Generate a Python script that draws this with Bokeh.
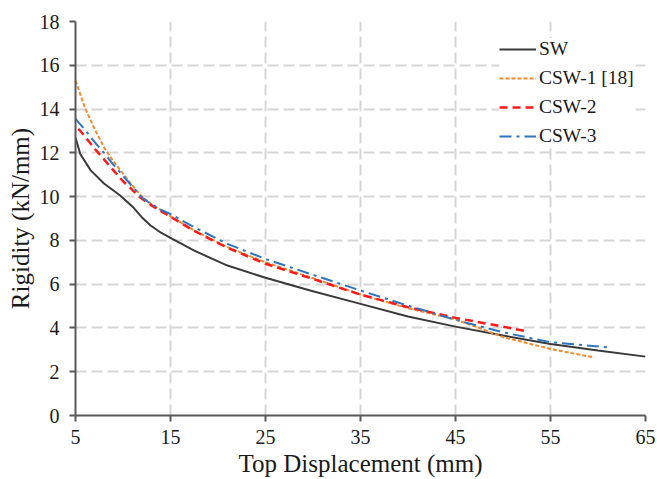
from bokeh.plotting import figure
from bokeh.models import Range1d, FixedTicker, Legend, LegendItem
from bokeh.embed import file_html
from bokeh.resources import INLINE

# ---- data ----
sw_x = [5, 5.5, 6.6, 8, 9.7, 11.1, 12, 12.9, 14, 15, 17.5, 21, 25, 29.7, 35, 40, 45, 50, 55, 60, 65]
sw_y = [12.7, 11.95, 11.2, 10.6, 10.05, 9.5, 9.05, 8.68, 8.35, 8.12, 7.53, 6.85, 6.29, 5.71, 5.1, 4.52, 4.06, 3.65, 3.27, 2.97, 2.69]

csw1_x = [5, 6, 7, 8, 9, 10, 11, 12, 13, 14, 15, 17.5, 21, 25, 29.7, 35, 40, 45, 47.5, 50, 55, 59.6]
csw1_y = [15.3, 14.05, 13.1, 12.25, 11.6, 11.05, 10.5, 10.0, 9.65, 9.38, 9.1, 8.45, 7.69, 7.0, 6.32, 5.53, 4.9, 4.39, 4.0, 3.58, 3.04, 2.65]

csw2_x = [5.3, 6, 7, 8, 9, 10, 11, 11.7, 13, 14, 15, 17.5, 21, 25, 29.7, 35, 40, 45, 50, 52.4]
csw2_y = [13.1, 12.75, 12.2, 11.7, 11.2, 10.7, 10.3, 10.0, 9.6, 9.33, 9.08, 8.43, 7.66, 6.93, 6.28, 5.52, 4.95, 4.46, 4.06, 3.85]

csw3_x = [5, 6, 7, 8, 9, 10, 11, 12, 13, 14, 15, 17.5, 21, 25, 29.7, 35, 40, 45, 50, 55, 61]
csw3_y = [13.55, 13.05, 12.5, 12.0, 11.45, 10.95, 10.45, 9.95, 9.65, 9.4, 9.2, 8.6, 7.84, 7.15, 6.47, 5.71, 5.02, 4.37, 3.8, 3.35, 3.12]

x_ticks = [5, 15, 25, 35, 45, 55, 65]
y_ticks = [0, 2, 4, 6, 8, 10, 12, 14, 16, 18]

labels = ["SW", "CSW-1 [18]", "CSW-2", "CSW-3"]

FONT = "Liberation Serif"

p = figure(width=657, height=479, output_backend="svg", toolbar_location=None,
           x_range=Range1d(5, 65), y_range=Range1d(0, 18),
           min_border_left=75, min_border_right=12, min_border_top=21, min_border_bottom=64)
p.outline_line_color = None
p.background_fill_color = "white"

for ax in (p.xaxis[0], p.yaxis[0]):
    ax.axis_line_color = "#595959"
    ax.axis_line_width = 2
    ax.major_tick_line_color = "#595959"
    ax.major_tick_line_width = 2
    ax.major_tick_out = 6
    ax.major_tick_in = 0
    ax.minor_tick_line_color = None
    ax.major_label_text_font = FONT
    ax.major_label_text_font_size = "20px"
    ax.major_label_text_color = "#1a1a1a"
    ax.axis_label_text_font = FONT
    ax.axis_label_text_font_size = "25px"
    ax.axis_label_text_font_style = "normal"
    ax.axis_label_text_color = "#1a1a1a"

p.xaxis.ticker = FixedTicker(ticks=x_ticks)
p.yaxis.ticker = FixedTicker(ticks=y_ticks)
p.xaxis.axis_label = "Top Displacement (mm)"
p.yaxis.axis_label = "Rigidity (kN/mm)"
p.xaxis.major_label_standoff = 8
p.yaxis.major_label_standoff = 10
p.xaxis.axis_label_standoff = 3
p.yaxis.axis_label_standoff = 3

for g in (p.xgrid[0], p.ygrid[0]):
    g.grid_line_color = "#d6d6d6"
    g.grid_line_width = 2
    g.grid_line_dash = "11 5"
p.xgrid.ticker = FixedTicker(ticks=x_ticks)
p.ygrid.ticker = FixedTicker(ticks=y_ticks)

r0 = p.line(sw_x, sw_y, line_color="#3a3a3a", line_width=2)
r1 = p.line(csw1_x, csw1_y, line_color="#f28a30", line_width=2, line_dash="4 2")
r2 = p.line(csw2_x, csw2_y, line_color="#ff1a1a", line_width=2.5, line_dash="8 5")
r3 = p.line(csw3_x, csw3_y, line_color="#2e75c0", line_width=2, line_dash="12 5 3 5")

legend = Legend(items=[LegendItem(label=labels[0], renderers=[r0]),
                       LegendItem(label=labels[1], renderers=[r1]),
                       LegendItem(label=labels[2], renderers=[r2]),
                       LegendItem(label=labels[3], renderers=[r3])],
                location=(424, 268))
legend.label_text_font = FONT
legend.label_text_font_size = "19.5px"
legend.label_text_color = "#1a1a1a"
legend.glyph_width = 37
legend.glyph_height = 20
legend.label_height = 20
legend.spacing = 7
legend.label_standoff = 3
legend.padding = 2
legend.margin = 0
legend.border_line_color = None
legend.background_fill_color = "white"
legend.background_fill_alpha = 1.0
p.add_layout(legend)

open("out.html", "w").write(file_html(p, INLINE))
